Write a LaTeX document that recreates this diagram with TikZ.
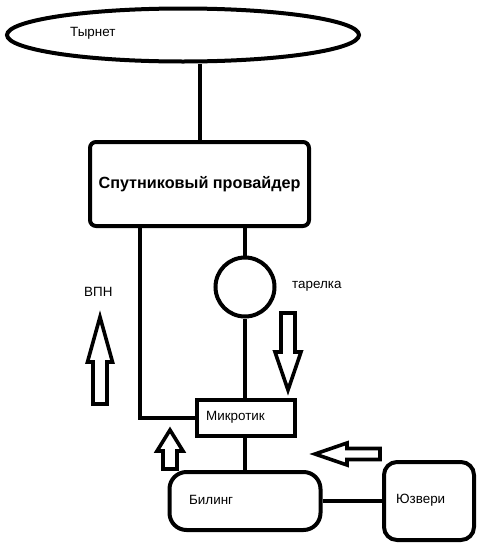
\documentclass[tikz,border=0pt]{standalone}
\usepackage{fontspec}
\setmainfont{Liberation Sans}
\usetikzlibrary{shapes.geometric}

\tikzset{
  wire/.style={line width=4pt},
  box/.style={draw,line width=4pt,rounded corners=#1},
  box/.default=6pt,
  cloud/.style={draw,ellipse,line width=4pt,minimum width=352pt,minimum height=53pt,inner sep=0pt},
  fat/.style={draw,line width=3.6pt,line join=miter},
  txt/.style={font=\fontsize{13.4}{15}\selectfont,inner sep=0pt}
}

\begin{document}
\begin{tikzpicture}[x=1pt,y=-1pt]
\useasboundingbox (0,0) rectangle (486,552);
% Nodes
\node[cloud] (inet) at (183,35) {};
\node[txt,anchor=west] (inettxt) at (70,33) {Тырнет};
\node[box,minimum width=219pt,minimum height=84pt,font=\bfseries\fontsize{16.2}{18}\selectfont] (prov) at (199.5,184) {Спутниковый провайдер};
\node[draw,circle,line width=4pt,minimum size=59pt,inner sep=0pt] (dish) at (245,287) {};
\node[txt,anchor=west] (dishtxt) at (292,286) {тарелка};
\node[txt,anchor=west] (vpntxt) at (84,292) {ВПН};
\node[draw,line width=4pt,minimum width=98pt,minimum height=36pt,inner sep=0pt] (mik) at (246,417.5) {};
\node[txt,anchor=west] (miktxt) at (206,417) {Микротик};
\node[box=17pt,minimum width=151pt,minimum height=58pt,inner sep=0pt] (bill) at (245,501) {};
\node[txt,anchor=west] (billtxt) at (189,500) {Билинг};
\node[box=13pt,minimum width=90pt,minimum height=78pt,inner sep=0pt] (users) at (429,501) {};
\node[txt,anchor=west] (userstxt) at (396,500) {Юзвери};
\coordinate (vpnx) at (140,300);

% Connectors
\draw[wire] (prov.north) -- (prov.north |- inet.south);
\draw[wire] (prov.south -| vpnx) |- (mik.west);
\draw[wire] (prov.south -| dish.north) -- (dish.north);
\draw[wire] (dish.south) -- (mik.north -| dish.south);
\draw[wire] (mik.south -| bill.north) -- (bill.north);
\draw[wire] (bill.east) -- (users.west);

% Hollow arrows: tip x/y, angle, length, head length, head half width, shaft half width
\foreach \tx/\ty/\ang/\len/\hl/\hw/\sw in {100/317/90/87/45/12.5/7, 288/390/-90/77/38/13/7, 170/430/90/39/21/13/7, 315/454/180/65/32/11/5.5} {
    \draw[fat,shift={(\tx,\ty)},rotate=\ang] (0,0) -- (-\hl,\hw) -- (-\hl,\sw) -- (-\len,\sw) -- (-\len,-\sw) -- (-\hl,-\sw) -- (-\hl,-\hw) -- cycle;
}
\end{tikzpicture}
\end{document}
